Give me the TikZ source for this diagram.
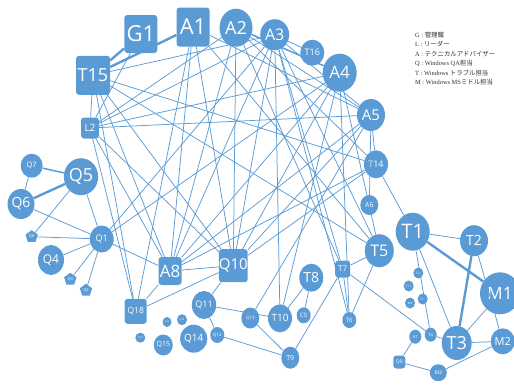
\documentclass[tikz,border=0pt]{standalone}
\usepackage{fontspec}
\setmainfont{Liberation Serif}
\newfontfamily\lbl{Open Sans}
\newfontfamily\jp{Noto Sans CJK JP}
\usetikzlibrary{shapes.geometric}
\definecolor{nb}{HTML}{5B9BD5}
\definecolor{legc}{HTML}{333333}
\begin{document}
\begin{tikzpicture}[x=1bp,y=-1bp,
  ell/.style n args={3}{ellipse,fill=nb,draw=none,inner sep=0pt,minimum width=#1bp,minimum height=#2bp,text=white,font=\lbl\fontsize{#3bp}{#3bp}\selectfont},
  rs/.style n args={3}{rectangle,rounded corners=3bp,fill=nb,draw=none,inner sep=0pt,minimum width=#1bp,minimum height=#2bp,text=white,font=\lbl\fontsize{#3bp}{#3bp}\selectfont},
  pent/.style 2 args={regular polygon,regular polygon sides=5,fill=nb,draw=none,inner sep=0pt,minimum size=#1bp,text=white,font=\lbl\fontsize{#2bp}{#2bp}\selectfont},
  ln/.style={draw=nb,line width=0.75bp},
  tk/.style={draw=nb,line width=2.4bp},
  md/.style={draw=nb,line width=1.5bp},
  leg/.style={anchor=west,inner sep=0pt,text=legc,font=\fontsize{6.4bp}{7bp}\selectfont}]
\useasboundingbox (0,0) rectangle (514,384);
\clip (0,0) rectangle (514,384);
% nodes
\node[rs={33}{38}{22}] (G1) at (140.8,34) {G1};
\node[rs={33}{39}{22}] (A1) at (193,27) {A1};
\node[ell={33}{38}{18}] (A2) at (236,27.7) {A2};
\node[ell={29}{31}{16}] (A3) at (274.7,34.7) {A3};
\node[ell={24}{26}{9}] (T16) at (312.3,52.7) {T16};
\node[ell={34}{38}{17}] (A4) at (339.7,72.7) {A4};
\node[ell={28}{32}{15}] (A5) at (371,115) {A5};
\node[rs={34}{39}{18}] (T15) at (93,75.3) {T15};
\node[rs={18}{21}{10}] (L2) at (90,128) {L2};
\node[ell={24}{28}{9}] (T14) at (376,164.3) {T14};
\node[ell={18}{20}{7}] (A6) at (369.3,205) {A6};
\node[ell={22}{24}{7.5}] (Q7) at (31.7,165.7) {Q7};
\node[ell={34}{37}{18}] (Q5) at (81,176.7) {Q5};
\node[ell={27}{30}{14}] (Q6) at (21,204) {Q6};
\node[pent={13}{4}] (Q8) at (31.7,236.7) {Q8};
\node[ell={24}{27}{9}] (Q1) at (101.7,239) {Q1};
\node[ell={26}{30}{12}] (Q4) at (51,260) {Q4};
\node[pent={13}{4}] (Q3) at (70.3,279.3) {Q3};
\node[pent={13}{4}] (Q2) at (86,290.3) {Q2};
\node[rs={23}{28}{17}] (A8) at (170,271) {A8};
\node[rs={28}{33}{15}] (Q10) at (233.3,265.7) {Q10};
\node[rs={22}{25}{8.5}] (Q18) at (135.7,311.3) {Q18};
\node[ell={24}{28}{9}] (Q11) at (204,305) {Q11};
\node[ell={9}{10}{2.5}] (Q17) at (167,322) {Q17};
\node[ell={10}{11}{2.5}] (Q16) at (182,319.7) {Q16};
\node[ell={10}{10}{2.5}] (Q19) at (140.3,337.7) {Q19};
\node[ell={19}{21}{7}] (Q15) at (163.3,345) {Q15};
\node[ell={23}{28}{10}] (Q14) at (193.7,338.7) {Q14};
\node[ell={14}{16}{4.5}] (Q12) at (217.3,335) {Q12};
\node[ell={18}{21}{4.5}] (Q13) at (250.3,318) {Q13};
\node[ell={24}{28}{10}] (T10) at (280,318.3) {T10};
\node[ell={24}{28}{14}] (T8) at (311.3,277.7) {T8};
\node[ell={14}{16}{6}] (C5) at (303.7,315.3) {C5};
\node[ell={18}{22}{7}] (T9) at (290.3,357.7) {T9};
\node[rs={15}{17}{8}] (T7) at (342.7,269) {T7};
\node[ell={14}{16}{6}] (T6) at (349.3,320) {T6};
\node[ell={29}{33}{16}] (T5) at (379.3,250.7) {T5};
\node[ell={34}{38}{20}] (T1) at (412.7,231.7) {T1};
\node[ell={28}{31}{14}] (T2) at (474,240.7) {T2};
\node[ell={40}{42}{17}] (M1) at (500,293.3) {M1};
\node[ell={30}{34}{18}] (T3) at (456.7,343) {T3};
\node[ell={24}{26}{11}] (M2) at (502.7,341.3) {M2};
\node[ell={12}{14}{4}] (T4) at (430.7,334.7) {T4};
\node[ell={12}{14}{4}] (A7) at (415.3,336.7) {A7};
\node[rs={12}{13}{5}] (Q9) at (399.3,362) {Q9};
\node[ell={17}{17}{5}] (M3) at (438.3,372.7) {M3};
\node[ell={10}{11}{3}] (T12) at (418.3,273) {T12};
\node[ell={10}{11}{3}] (T11) at (408.7,286) {T11};
\node[ell={10}{11}{3}] (M4) at (410,303) {M4};
\node[ell={10}{11}{3}] (T13) at (422.7,299) {T13};
% connectors
\foreach \a/\b in {G1/L2,
  T15/A3, T15/L2, T15/Q18, T15/A8, T15/Q10, T15/T5, T15/T14,
  L2/A2, L2/A3, L2/A4, L2/Q18, L2/A8, L2/Q10, L2/A5,
  A1/Q18, A1/A8, A1/Q10, A1/T5, A1/A5,
  A2/A5, A2/Q10, A2/A8, A2/T7, A2/T14,
  A3/T16, A3/Q1, A3/A8, A3/Q10, A3/T5, A3/T7, A3/T10, A3/T6, A3/A5,
  A4/A8, A4/Q10, A4/T10, A4/T6, A4/Q1, A4/T5,
  A5/A6, A5/T14, A5/A8, A5/Q10, A5/Q13,
  T14/T1, T14/A8, T14/Q10,
  Q1/Q5, Q1/Q6, Q1/Q8, Q1/Q4, Q1/Q3, Q1/Q2, Q1/A8,
  Q5/Q8, Q7/Q6,
  Q10/A8, Q10/Q18, Q10/Q11, A8/Q18,
  Q11/Q12, Q11/T10, Q13/T9, Q12/T9, T10/T8, T8/C5, T9/T7,
  T7/T6, T7/T5, T7/T4, T5/T6,
  T1/T2, T1/T3, T1/T4, T2/M2, M1/T3, T3/T4, T3/M2, M2/M3, M3/Q9, Q9/A7}
  {\draw[ln] (\a) -- (\b);}
\draw[tk] (T15) -- (G1);
\draw[tk] (T15) -- (A1);
\draw[tk] (Q5) -- (Q6);
\draw[md] (Q5) -- (Q7);
\draw[md] (A2) -- (A4);
\draw[tk] (T1) -- (M1);
\draw[tk] (T2) -- (T3);
% legend
\node[leg] (lg1) at (415,35) {G : {\jp 管理職}};
\node[leg] (lg2) at (415,44.5) {L : {\jp リーダー}};
\node[leg] (lg3) at (415,54) {A : {\jp テクニカルアドバイザー}};
\node[leg] (lg4) at (415,63.5) {Q : Windows QA{\jp 担当}};
\node[leg] (lg5) at (415,73) {T : Windows {\jp トラブル担当}};
\node[leg] (lg6) at (415,82.5) {M : Windows MS{\jp ミドル担当}};
\end{tikzpicture}
\end{document}
